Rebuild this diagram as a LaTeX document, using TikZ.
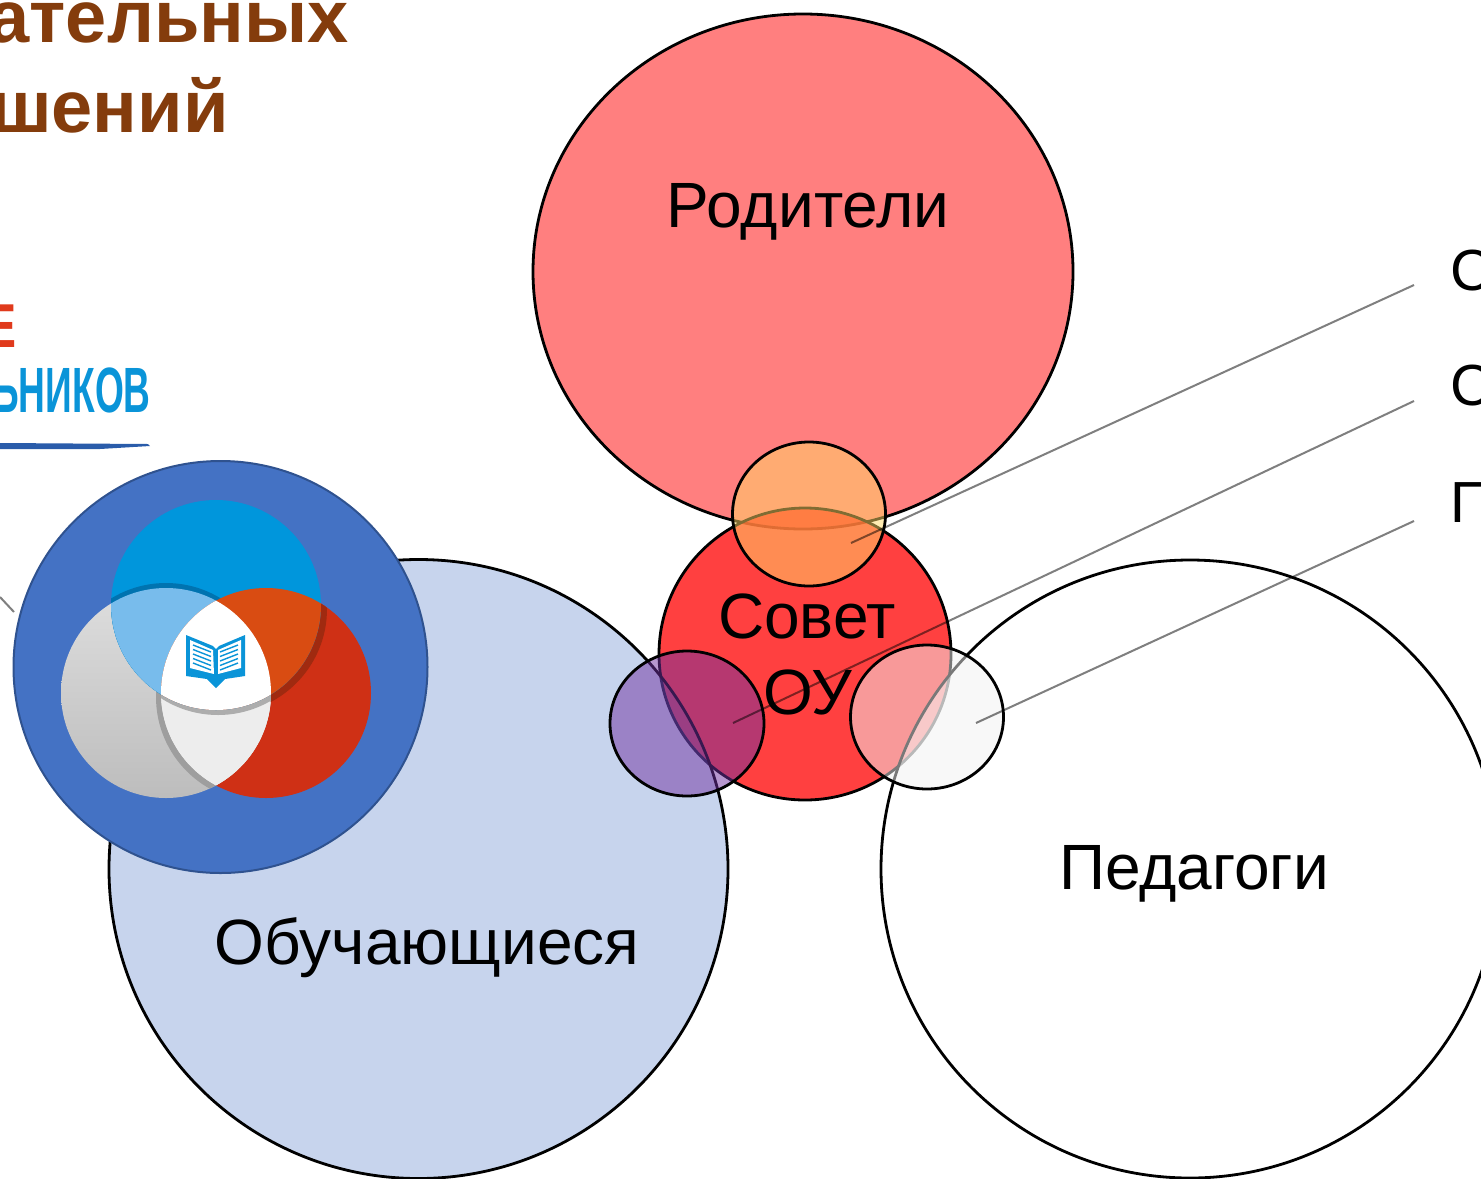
\documentclass[tikz,border=0pt]{standalone}
\usepackage{fontspec}
\setmainfont{Liberation Sans}
\definecolor{titlebrown}{HTML}{843C0C}
\definecolor{logored}{HTML}{E03A1C}
\definecolor{logoblue}{HTML}{0A94D8}
\definecolor{linkblue}{HTML}{2A5CAA}
\definecolor{studentblue}{HTML}{4472C4}
\definecolor{ringedge}{HTML}{2F528F}
\definecolor{venngold}{HTML}{FFD966}
\definecolor{vennpurple}{HTML}{7030A0}
\definecolor{venngrey}{HTML}{F2F2F2}
\definecolor{skyblue}{HTML}{0096DC}
\definecolor{skydark}{HTML}{0073B0}
\definecolor{skylight}{HTML}{78BCEC}
\definecolor{firered}{HTML}{CF3015}
\definecolor{firedark}{HTML}{A02A10}
\definecolor{fireorange}{HTML}{D94C12}
\tikzset{
  ring/.style={draw=black, line width=1.4pt},
  leader/.style={draw=black, draw opacity=.5, line width=1pt},
  bigtext/.style={text=black, font=\fontsize{32}{32}\selectfont, inner sep=0pt, anchor=base},
  sidetext/.style={text=black, font=\fontsize{29}{29}\selectfont, inner sep=0pt, anchor=base west},
  headtext/.style={text=titlebrown, font=\bfseries\fontsize{37}{37}\selectfont, inner sep=0pt, anchor=base east},
}

\begin{document}
\begin{tikzpicture}[x=0.5pt, y=-0.5pt]

\useasboundingbox (0,0) rectangle (1481,1178);
\clip (0,0) rectangle (1481,1178);

\node[headtext] (headone) at (349,42) {вательных};
\node[headtext] (headtwo) at (229,132) {шений};

\node[inner sep=0pt, anchor=base east, text=logored, font=\bfseries\fontsize{31}{31}\selectfont, xscale=.62] (logoone) at (16,347) {Е};
\node[inner sep=0pt, anchor=base east, text=logoblue, font=\bfseries\fontsize{32}{32}\selectfont, xscale=.58] (logotwo) at (151,412) {ЛЬНИКОВ};
\fill[linkblue] (0,443) -- (148,444) -- (150,446) -- (100,449) -- (0,449) -- cycle;

\coordinate (edgea) at (0,597);
\coordinate (edgeb) at (14,612);
\draw[leader] (edgea) -- (edgeb);

\draw[ring, fill=red, fill opacity=.5] (803,271.5) ellipse (270 and 257.5);
\draw[ring, fill=red, fill opacity=.75] (805,654) circle (146);
\draw[ring, fill=studentblue, fill opacity=.3] (418.5,869) circle (309.5);
\draw[ring, fill=white, fill opacity=.5] (1190,869) circle (309);

\draw[ring, fill=venngold, fill opacity=.5] (809,514) ellipse (76.5 and 72);
\draw[ring, fill=vennpurple, fill opacity=.5] (687,723.5) ellipse (77 and 72.5);
\draw[ring, fill=venngrey, fill opacity=.5] (927,717) ellipse (76.5 and 72);

\node[bigtext] (parents) at (808,227) {Родители};
\node[bigtext] (council) at (807,638) {Совет};
\node[bigtext] (school) at (808,714) {ОУ};
\node[bigtext] (students) at (427,964) {Обучающиеся};
\node[bigtext] (teachers) at (1194,889) {Педагоги};

\node[sidetext] (sidea) at (1450,290) {С};
\node[sidetext] (sideb) at (1450,405) {С};
\node[sidetext] (sidec) at (1450,522) {П};

\coordinate (pina) at (851,543);
\coordinate (pinb) at (733,723);
\coordinate (pinc) at (976,723);
\coordinate (enda) at (1414,285);
\coordinate (endb) at (1414,401);
\coordinate (endc) at (1414,521);
\draw[leader] (pina) -- (enda);
\draw[leader] (pinb) -- (endb);
\draw[leader] (pinc) -- (endc);

\draw[draw=ringedge, fill=studentblue, line width=1pt] (220.5,667) ellipse (207 and 206);

\shade[top color=black!13, bottom color=black!26] (166,693) circle (105);
\fill[firered] (266,693) circle (105);

\begin{scope}
\clip (166,693) circle (105);
\fill[black!38] (261,697) circle (105);
\fill[black!7] (266,693) circle (105);
\end{scope}

\begin{scope}
\clip (266,693) circle (105);
\fill[firedark] (222,609) circle (105);
\clip (166,693) circle (105);
\fill[black!7] (160,693) rectangle (275,800);
\fill[black!32] (218,610) circle (105);
\end{scope}

\fill[skyblue] (216,605) circle (105);

\begin{scope}
\clip (216,605) circle (105);
\fill[skydark] (166,688) circle (105);
\fill[skylight] (166,693) circle (105);
\fill[fireorange] (266,693) circle (105);
\clip (166,693) circle (105);
\fill[white] (266,693) circle (105);
\end{scope}

\fill[logoblue] (186,635) -- (213,646) -- (216,649) -- (219,646) -- (245,635) -- (245,676)
  -- (225,679) -- (216,688) -- (207,679) -- (186,676) -- cycle;
\fill[white] (190,640) -- (213,650) -- (214,674) -- (190,668) -- cycle;
\fill[white] (241,640) -- (218,650) -- (218,674) -- (241,668) -- cycle;
\foreach \i in {0,1,2,3,4}{
  \draw[logoblue, line width=.7pt] (193,645+4.5*\i) -- (211,652+4.5*\i);
  \draw[logoblue, line width=.7pt] (238,645+4.5*\i) -- (220,652+4.5*\i);
}

\end{tikzpicture}
\end{document}
